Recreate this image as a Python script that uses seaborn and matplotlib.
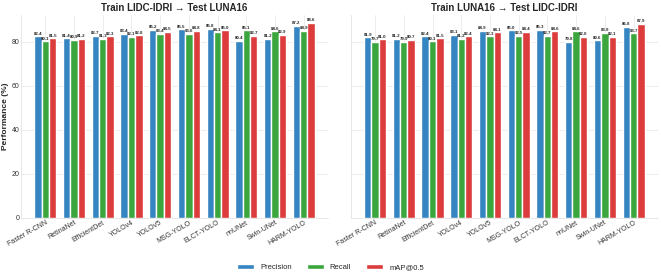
import matplotlib
matplotlib.use("Agg")
from matplotlib import pyplot as plt
import numpy as np
import pandas as pd
import seaborn as sns

# ------------------------------------------------------------
#     data
# ------------------------------------------------------------

models = ["Faster R-CNN", "RetinaNet", "EfficientDet", "YOLOv4", "YOLOv5",
          "MSG-YOLO", "ELCT-YOLO", "nnUNet", "Swin-UNet", "HARM-YOLO"]
metrics = ["Precision", "Recall", "mAP@0.5"]

# Train LIDC-IDRI -> Test LUNA16
lidc_precision = [82.4, 81.4, 82.7, 83.4, 85.2, 85.5, 85.8, 80.4, 81.2, 87.2]
lidc_recall    = [80.1, 80.9, 81.3, 82.1, 83.4, 83.6, 84.1, 85.1, 84.6, 84.9]
lidc_map       = [81.5, 81.2, 82.3, 82.8, 84.5, 84.8, 85.0, 82.7, 82.9, 88.6]

# Train LUNA16 -> Test LIDC-IDRI
luna_precision = [81.9, 81.2, 82.4, 83.1, 84.9, 85.0, 85.3, 79.8, 80.6, 86.8]
luna_recall    = [79.7, 79.9, 80.1, 81.2, 82.3, 82.5, 82.7, 84.6, 83.9, 83.7]
luna_map       = [81.0, 80.7, 81.5, 82.4, 84.1, 84.4, 84.6, 82.0, 82.1, 87.9]

titles = ["Train LIDC-IDRI \u2192 Test LUNA16", "Train LUNA16 \u2192 Test LIDC-IDRI"]
colors = ["#3585c2", "#3ca63e", "#dc3c3c"]

def make_df(prec, rec, mp):
    df = pd.DataFrame({"Model": models, "Precision": prec, "Recall": rec, "mAP@0.5": mp})
    return df.melt(id_vars="Model", var_name="Metric", value_name="Value")

frames = [make_df(lidc_precision, lidc_recall, lidc_map),
          make_df(luna_precision, luna_recall, luna_map)]

# ------------------------------------------------------------
#     plotting
# ------------------------------------------------------------

sns.set_theme(style="whitegrid")
plt.rcParams["font.family"] = ["Liberation Sans", "DejaVu Sans"]

fig, axes = plt.subplots(1, 2, figsize=(6.61, 2.74), dpi=100, sharey=True)

for ax, df, title in zip(axes, frames, titles):
    sns.barplot(data=df, x="Model", y="Value", hue="Metric", hue_order=metrics,
                palette=colors, saturation=1, width=0.77, ax=ax,
                legend=(ax is axes[0]))
    ax.set_title(title, fontsize=7, fontweight="bold", pad=3)
    ax.set_xlabel("")
    ax.set_ylabel("")
    ax.set_ylim(0, 92)
    ax.set_xlim(-0.84, 9.84)
    ax.set_yticks([0, 20, 40, 60, 80])
    ax.tick_params(axis="both", labelsize=5, pad=1, length=0, colors="#333333")
    for lab in ax.get_xticklabels():
        lab.set_rotation(30)
        lab.set_ha("right")
        lab.set_rotation_mode("anchor")
    for cont in ax.containers:
        ax.bar_label(cont, fmt="%.1f", fontsize=3.2, fontweight="bold", padding=0.5)
    for sp in ax.spines.values():
        sp.set_linewidth(0.5)
        sp.set_color("#dddddd")
    ax.spines["top"].set_visible(False)
    ax.spines["right"].set_visible(False)
    ax.grid(True, linewidth=0.5, color="#e6e6e6")

axes[0].set_ylabel("Performance (%)", fontsize=6, fontweight="bold", labelpad=2)

handles, labels = axes[0].get_legend_handles_labels()
axes[0].get_legend().remove()
fig.legend(handles, labels, loc="lower center", ncol=3, fontsize=5.5, frameon=False,
           bbox_to_anchor=(0.5, -0.015), handlelength=2.2, handleheight=0.6,
           columnspacing=2.0)

fig.subplots_adjust(left=0.032, right=0.995, top=0.945, bottom=0.205, wspace=0.075)
fig.savefig("out.png", dpi=100)
